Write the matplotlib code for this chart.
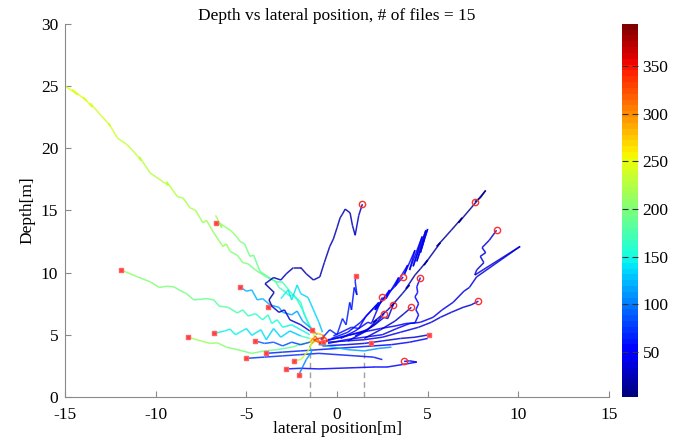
import numpy as np
import matplotlib
matplotlib.use("Agg")
import matplotlib.pyplot as plt
from matplotlib.collections import LineCollection
from matplotlib.colors import Normalize

plt.rcParams['font.family'] = ['Liberation Serif', 'DejaVu Serif']
plt.rcParams['font.size'] = 12.5
plt.rcParams['axes.unicode_minus'] = False

# each track: (lateral x [m], depth y [m], colour value)
t01 = [(-15.0, 25.0, 246), (-14.3, 24.3, 246), (-14.6, 24.7, 245), (-13.8, 23.8, 244), (-14.0, 24.1, 244),
       (-13.5, 23.3, 242), (-13.6, 23.6, 242), (-13.0, 22.6, 240), (-12.5, 21.8, 238), (-12.6, 22.0, 238),
       (-12.1, 20.8, 236), (-11.6, 20.3, 234), (-11.2, 19.7, 232), (-10.8, 19.0, 230), (-10.9, 19.3, 230),
       (-10.3, 18.0, 228), (-9.6, 17.3, 225), (-9.3, 17.0, 224), (-9.4, 17.3, 224), (-8.8, 16.1, 222),
       (-8.5, 16.0, 220), (-8.1, 15.2, 218), (-7.8, 15.0, 217), (-7.4, 14.0, 215), (-7.2, 14.2, 214),
       (-6.8, 13.2, 212), (-6.3, 12.1, 208), (-6.1, 12.3, 207), (-5.9, 11.7, 205), (-5.5, 11.4, 203),
       (-5.2, 10.8, 200), (-4.9, 10.7, 198), (-4.5, 10.2, 196), (-3.9, 9.65, 190), (-3.4, 9.3, 180),
       (-3.2, 8.8, 176), (-3.0, 8.6, 172), (-2.6, 8.1, 165), (-2.4, 8.2, 163), (-2.0, 7.6, 158),
       (-1.8, 6.6, 155), (-1.5, 5.6, 200), (-1.2, 4.8, 290)]
t02 = [(-6.7, 14.6, 212), (-6.35, 13.6, 210), (-6.5, 14.0, 210), (-5.8, 13.3, 206), (-5.5, 12.8, 204),
       (-5.35, 12.5, 202), (-5.1, 12.3, 200), (-4.8, 11.3, 196), (-4.6, 11.4, 194), (-4.25, 10.1, 188),
       (-3.8, 9.65, 182), (-3.3, 9.2, 176), (-3.0, 9.2, 172), (-2.6, 8.5, 166), (-2.2, 7.8, 160),
       (-1.9, 7.0, 155), (-1.6, 6.0, 150), (-1.3, 5.2, 160)]
t03 = [(-11.9, 10.2, 206), (-11.0, 9.65, 204), (-10.3, 9.25, 202), (-9.8, 8.8, 200), (-9.4, 8.9, 199),
       (-9.0, 8.85, 198), (-8.7, 8.6, 196), (-8.3, 8.3, 194), (-7.9, 7.8, 192), (-7.2, 7.9, 188),
       (-6.8, 7.8, 186), (-6.5, 7.3, 184), (-6.0, 7.2, 180), (-5.5, 6.75, 175), (-5.2, 7.0, 172),
       (-4.9, 6.5, 168), (-4.5, 6.7, 164), (-4.1, 6.2, 160), (-3.8, 6.6, 158), (-3.6, 5.9, 156),
       (-3.3, 6.2, 153), (-3.0, 5.6, 150), (-2.5, 5.8, 148), (-2.0, 5.4, 145), (-1.5, 5.0, 150)]
t04 = [(-5.35, 8.85, 125), (-5.0, 8.5, 124), (-4.7, 8.6, 123), (-4.4, 7.8, 122), (-4.1, 7.9, 121),
       (-3.7, 7.4, 120), (-3.2, 7.2, 118), (-3.0, 6.8, 117), (-2.5, 6.6, 116), (-2.2, 6.9, 115),
       (-1.9, 6.1, 114), (-1.5, 5.6, 115), (-1.1, 5.0, 130)]
t05 = [(1.4, 15.5, 28), (1.2, 14.6, 28), (1.0, 13.0, 27), (0.85, 13.8, 27), (0.72, 14.8, 27),
       (0.45, 15.1, 26), (0.3, 14.7, 26), (0.17, 14.4, 26), (0.0, 13.6, 25), (-0.2, 12.7, 25),
       (-0.4, 12.1, 25), (-0.7, 10.8, 24), (-0.95, 9.65, 24), (-1.3, 9.4, 24), (-1.7, 9.9, 23),
       (-2.0, 10.4, 23), (-2.4, 10.4, 23), (-2.8, 9.9, 22), (-3.1, 9.4, 22), (-3.5, 9.6, 22),
       (-3.97, 9.1, 21), (-3.47, 8.4, 21), (-3.75, 7.8, 20), (-3.6, 7.3, 20), (-3.8, 7.2, 20)]
t05b = [(-3.6, 7.3, 30), (-3.2, 6.8, 32), (-2.9, 7.0, 33), (-2.6, 6.2, 34), (-2.0, 5.8, 36), (-1.5, 5.3, 40)]
t06 = [(-0.5, 4.6, 30), (0.3, 4.8, 28), (1.0, 5.1, 27), (1.7, 5.4, 26), (2.2, 6.2, 25), (2.0, 6.0, 25),
       (2.8, 7.0, 24), (3.2, 7.6, 23), (3.0, 7.3, 23), (3.6, 8.3, 22), (4.0, 9.0, 21), (3.8, 8.7, 21),
       (4.3, 9.8, 20), (4.6, 10.3, 19), (5.0, 11.0, 18), (4.8, 10.6, 18), (5.7, 12.4, 17), (5.5, 12.1, 16),
       (6.3, 13.4, 15), (6.9, 14.4, 14), (6.7, 14.0, 14), (7.4, 15.2, 13), (8.2, 16.6, 12), (7.9, 16.0, 12),
       (7.6, 15.7, 12)]
t07 = [(-0.3, 4.7, 60), (0.6, 5.2, 58), (1.3, 6.0, 56), (1.8, 6.8, 55), (2.3, 7.6, 54), (2.1, 7.0, 54),
       (2.9, 8.6, 52), (2.7, 7.9, 52), (3.4, 9.6, 50), (3.2, 8.9, 50), (3.9, 10.6, 48), (3.7, 9.8, 48),
       (4.3, 11.8, 47), (4.0, 10.2, 46), (4.7, 12.9, 45), (4.2, 10.5, 45), (4.9, 13.4, 44), (4.4, 10.9, 44),
       (5.0, 13.5, 43), (4.6, 11.6, 43), (4.8, 12.6, 42)]
t08 = [(-0.9, 4.6, 70), (-0.4, 5.4, 68), (0.0, 5.0, 67), (0.3, 6.3, 66), (0.5, 5.8, 65), (0.7, 7.6, 64),
       (0.8, 7.0, 64), (0.95, 8.8, 63), (1.1, 8.2, 62), (1.0, 9.3, 62), (1.05, 9.7, 62)]
t09 = [(-0.5, 4.3, 50), (0.5, 4.6, 48), (1.5, 4.8, 47), (2.5, 5.0, 46), (3.3, 5.5, 45), (4.0, 5.9, 44),
       (4.6, 6.0, 43), (5.3, 6.4, 42), (5.8, 7.0, 41), (6.4, 7.6, 40), (7.0, 8.5, 39), (7.3, 8.8, 39),
       (7.7, 9.65, 38), (10.1, 12.1, 37), (7.6, 9.8, 36), (7.7, 10.2, 36), (8.1, 10.8, 35), (7.9, 11.3, 35),
       (8.2, 11.6, 35), (8.0, 12.0, 34), (8.4, 12.6, 34), (8.8, 13.4, 33)]
t10 = [(-0.5, 4.4, 45), (0.5, 4.5, 44), (1.5, 4.6, 43), (2.5, 4.8, 42), (3.5, 5.2, 41), (4.5, 5.6, 40),
       (5.2, 6.0, 39), (5.7, 6.4, 38), (6.3, 6.8, 38), (6.95, 7.2, 37), (7.4, 7.4, 37), (7.8, 7.7, 36)]
t11 = [(-0.8, 4.1, 40), (0.5, 4.2, 40), (1.5, 4.3, 39), (2.5, 4.5, 38), (3.5, 4.7, 37), (4.3, 4.8, 37),
       (5.1, 5.0, 36)]
t12 = [(-0.6, 4.5, 55), (0.4, 4.9, 54), (1.4, 5.2, 53), (2.4, 5.5, 52), (3.2, 5.7, 51), (3.8, 5.9, 50),
       (4.3, 5.95, 50), (4.5, 6.6, 49), (4.35, 7.0, 49), (4.5, 7.5, 48), (4.3, 8.05, 48), (4.45, 8.4, 47),
       (4.4, 8.85, 47), (4.6, 9.6, 46)]
t13 = [(-0.2, 4.9, 60), (0.8, 5.6, 58), (1.2, 5.5, 58), (1.6, 6.5, 57), (2.2, 7.4, 56), (2.1, 7.0, 56),
       (2.8, 8.3, 55), (3.2, 8.9, 54), (3.65, 9.65, 53)]
t14 = [(0.2, 4.7, 48), (1.0, 5.3, 47), (1.7, 6.0, 46), (1.9, 5.9, 46), (2.1, 6.6, 45), (2.3, 7.3, 45),
       (2.5, 8.0, 44)]
t15 = [(0.6, 4.5, 42), (1.5, 5.2, 41), (2.2, 6.0, 40), (2.6, 6.7, 40)]
t16 = [(1.0, 4.9, 35), (2.0, 5.7, 34), (2.6, 6.4, 34), (2.8, 6.3, 34), (3.1, 7.4, 33)]
t17 = [(1.5, 4.7, 30), (2.4, 5.4, 29), (3.2, 6.1, 28), (3.7, 6.7, 28), (4.1, 7.2, 27)]
t18 = [(-6.8, 5.1, 150), (-6.2, 5.3, 148), (-5.9, 5.45, 146), (-5.6, 5.0, 145), (-5.0, 5.5, 143),
       (-4.7, 4.95, 141), (-4.2, 5.4, 139), (-3.9, 4.6, 137), (-3.5, 5.5, 135), (-3.1, 4.8, 133),
       (-2.6, 5.3, 131), (-2.0, 4.9, 128), (-1.5, 4.7, 200), (-1.1, 4.5, 300)]
t19 = [(-8.2, 4.8, 215), (-7.5, 4.5, 212), (-7.0, 4.3, 210), (-6.6, 4.35, 208), (-6.1, 4.0, 205),
       (-5.5, 3.8, 200), (-4.7, 3.5, 195), (-4.0, 3.7, 190), (-3.3, 3.8, 185), (-2.5, 4.0, 180),
       (-1.8, 4.3, 200), (-1.2, 4.5, 280)]
t20 = [(-4.5, 4.5, 90), (-4.0, 4.3, 88), (-3.5, 4.4, 86), (-3.0, 4.1, 84), (-2.5, 4.4, 82), (-2.0, 4.2, 80),
       (-1.5, 4.4, 90)]
t21 = [(-3.9, 3.5, 70), (-3.0, 3.6, 68), (-2.0, 3.7, 66), (-1.0, 3.8, 64), (0.0, 3.9, 62), (1.0, 4.0, 60),
       (2.0, 4.1, 58), (3.0, 4.2, 56), (4.0, 4.4, 54), (5.0, 4.7, 52)]
t22 = [(-5.0, 3.1, 75), (-4.0, 3.2, 74), (-3.0, 3.3, 72), (-2.0, 3.4, 70), (-1.0, 3.5, 68), (0.0, 3.4, 66),
       (1.0, 3.3, 64), (2.0, 3.2, 62), (2.5, 3.0, 60)]
t23 = [(-2.8, 2.25, 60), (-2.0, 2.3, 58), (-1.0, 2.25, 56), (0.0, 2.3, 54), (1.0, 2.35, 52), (2.0, 2.4, 50),
       (2.75, 2.4, 48), (3.6, 2.6, 47), (4.4, 2.8, 46), (4.0, 2.9, 45), (3.7, 2.85, 45)]
t24 = [(-2.1, 1.8, 100), (-1.9, 2.4, 102), (-1.7, 3.0, 105), (-1.4, 3.6, 110), (-1.5, 4.1, 120),
       (-1.2, 4.6, 200)]
t25 = [(-2.4, 2.9, 225), (-2.0, 3.0, 230), (-1.7, 3.5, 240), (-1.5, 3.9, 250), (-1.4, 4.3, 270),
       (-1.1, 4.6, 300)]
t26 = [(-1.5, 4.4, 290), (-1.2, 4.9, 310), (-0.9, 4.3, 330), (-1.3, 4.6, 320), (-0.7, 4.8, 350),
       (-1.0, 4.2, 340), (-0.5, 4.5, 360), (-0.8, 5.0, 300), (-1.4, 5.2, 260)]
t27 = [(-1.0, 4.2, 130), (-0.2, 4.0, 125), (0.6, 3.8, 120), (1.5, 3.7, 115), (2.3, 3.9, 110), (3.0, 4.0, 105)]
t28 = [(-3.1, 7.9, 145), (-2.7, 8.6, 143), (-2.5, 7.8, 141), (-2.2, 9.0, 140), (-2.0, 8.3, 138),
       (-1.6, 8.0, 136), (-1.3, 7.0, 134), (-1.0, 6.0, 132), (-0.8, 5.2, 130)]

tracks = [t01, t02, t03, t04, t05, t05b, t06, t07, t08, t09, t10, t11, t12, t13, t14,
          t15, t16, t17, t18, t19, t20, t21, t22, t23, t24, t25, t26, t27, t28]

square_x = [-6.7, -11.9, -5.35, -3.8, -6.8, -8.2, -4.5, -3.9, -5.0, -2.4, -2.8, -2.1, -1.4, -0.8, 5.1, 1.9, 1.05]
square_y = [14.0, 10.2, 8.85, 7.2, 5.1, 4.8, 4.5, 3.5, 3.1, 2.9, 2.25, 1.8, 5.4, 4.4, 5.0, 4.3, 9.7]
circle_x = [1.4, 7.6, 8.8, 3.65, 4.6, 2.5, 3.1, 4.1, 2.6, 7.8, 3.7]
circle_y = [15.5, 15.7, 13.4, 9.65, 9.6, 8.0, 7.4, 7.2, 6.7, 7.7, 2.85]

guide_x = [-1.5, 1.5]
cmin, cmax = 3, 394

fig = plt.figure(figsize=(6.85, 4.41), dpi=100)
ax = fig.add_axes([0.095, 0.10, 0.794, 0.846])
cmap = plt.get_cmap('jet', 64)
norm = Normalize(vmin=cmin, vmax=cmax)

for gx in guide_x:
    ax.plot([gx, gx], [0, 3.6], color='#a0a0a0', lw=1, ls=(0, (4, 3)), zorder=1)

for tr in tracks:
    a = np.array(tr, dtype=float)
    pts = a[:, :2].reshape(-1, 1, 2)
    segs = np.concatenate([pts[:-1], pts[1:]], axis=1)
    vals = 0.5 * (a[:-1, 2] + a[1:, 2])
    lc = LineCollection(segs, cmap=cmap, norm=norm, linewidths=1.1, alpha=0.85, zorder=2)
    lc.set_array(vals)
    ax.add_collection(lc)

ax.plot(square_x, square_y, ls='none', marker='s', ms=2.5, mfc='#ff3a3a', mec='#ff6060', zorder=3)
ax.plot(circle_x, circle_y, ls='none', marker='o', ms=4.5, mfc='none', mec='#ff3030', mew=1.0, zorder=3)

ax.set_xlim(-15, 15)
ax.set_ylim(0, 30)
ax.set_xticks(range(-15, 16, 5))
ax.set_yticks(range(0, 31, 5))
for s in ['top', 'right']:
    ax.spines[s].set_visible(False)
for s in ['left', 'bottom']:
    ax.spines[s].set_color('#8a8a8a')
ax.tick_params(direction='in', length=4, color='#8a8a8a', labelsize=12.5)
ax.tick_params(axis='x', pad=7)
ax.tick_params(axis='y', pad=5)
ax.set_title('Depth vs lateral position, # of files = 15', fontsize=12.5, pad=3)
ax.set_xlabel('lateral position[m]', fontsize=12.5, labelpad=-1)
ax.set_ylabel('Depth[m]', fontsize=12.5, labelpad=4)

cax = fig.add_axes([0.908, 0.10, 0.023, 0.846])
sm = plt.cm.ScalarMappable(norm=norm, cmap=cmap)
cb = fig.colorbar(sm, cax=cax, ticks=[50, 100, 150, 200, 250, 300, 350])
cb.outline.set_visible(False)
cax.tick_params(direction='in', length=4, color='#333333', labelsize=12.5, left=True)

fig.savefig('out.png', dpi=100)
